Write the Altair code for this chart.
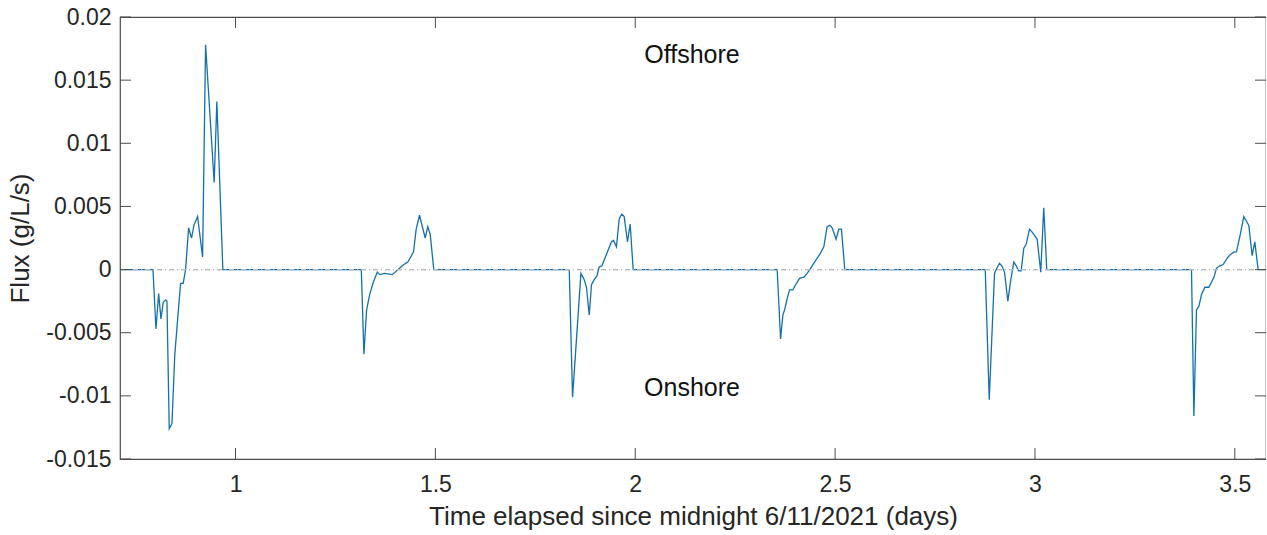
import altair as alt
import pandas as pd

# ---- data (time in days, flux in g/L/s) ----
t1 = [0.711, 0.7935, 0.801, 0.8077, 0.8134, 0.8192, 0.8252, 0.8284, 0.8342, 0.841, 0.848, 0.855,
      0.8626, 0.8691, 0.8751, 0.8826, 0.8901, 0.8959, 0.9051, 0.9176, 0.9251, 0.9466, 0.9533, 0.9683]
v1 = [0, 0, -0.0047, -0.0019, -0.0039, -0.0026, -0.0024, -0.0025, -0.0126, -0.0122, -0.0068, -0.0040,
      -0.0011, -0.0011, 0.0, 0.0033, 0.0025, 0.0035, 0.0042, 0.0010, 0.0178, 0.0069, 0.0133, 0.0]

t2 = [1.3147, 1.3212, 1.3279, 1.3354, 1.3437, 1.3546, 1.3611, 1.3729, 1.3921, 1.4103, 1.4211, 1.4311,
      1.4453, 1.4520, 1.4603, 1.4745, 1.4810, 1.4870, 1.4960]
v2 = [0, -0.0067, -0.0032, -0.0020, -0.0011, -0.0002, -0.0004, -0.0003, -0.0004, 0.0001, 0.0004, 0.0006,
      0.0014, 0.0032, 0.0043, 0.0025, 0.0034, 0.0028, 0]

t3 = [1.8349, 1.8432, 1.8641, 1.8724, 1.8780, 1.8849, 1.8906, 1.8974, 1.9041, 1.9098, 1.9166, 1.9241,
      1.9331, 1.9406, 1.9456, 1.9530, 1.9598, 1.9665, 1.9723, 1.9805, 1.9873, 1.9948]
v3 = [0, -0.0101, -0.0003, -0.0008, -0.0014, -0.0036, -0.0012, -0.0008, -0.0005, 0.0002, 0.0003, 0.0009,
      0.0016, 0.0022, 0.0023, 0.0018, 0.0040, 0.0044, 0.0042, 0.0022, 0.0036, 0]

t4 = [2.3551, 2.3636, 2.3694, 2.3744, 2.3801, 2.3861, 2.3944, 2.4011, 2.4111, 2.4218, 2.4301, 2.4386,
      2.4511, 2.4635, 2.4718, 2.4800, 2.4868, 2.4926, 2.5025, 2.5092, 2.5159, 2.5242]
v4 = [0, -0.0055, -0.0036, -0.0031, -0.0023, -0.0016, -0.0016, -0.0012, -0.0007, -0.0006, -0.0003, 0.0001,
      0.0007, 0.0013, 0.0018, 0.0034, 0.0035, 0.0033, 0.0024, 0.0032, 0.0032, 0]

t5 = [2.8756, 2.8856, 2.8988, 2.9046, 2.9113, 2.9171, 2.9238, 2.9321, 2.9396, 2.9471, 2.9530, 2.9588,
      2.9655, 2.9721, 2.9780, 2.9863, 2.9945, 3.0055, 3.0145, 3.0220, 3.0295]
v5 = [0, -0.0103, -0.0003, 0.0001, 0.0005, 0.0003, -0.0002, -0.0025, -0.0008, 0.0006, 0.0003, -0.0001,
      -0.0001, 0.0017, 0.0020, 0.0032, 0.0029, 0.0024, -0.0002, 0.0049, 0]

t6 = [3.3916, 3.3976, 3.4041, 3.4101, 3.4166, 3.4251, 3.4351, 3.4416, 3.4478, 3.4540, 3.4625, 3.4708,
      3.4808, 3.4890, 3.4983, 3.5041, 3.5125, 3.5225, 3.5350, 3.5433, 3.5500, 3.5583, 3.578]
v6 = [0, -0.0116, -0.0032, -0.0029, -0.0020, -0.0014, -0.0014, -0.0010, -0.0006, 0.0001, 0.0003, 0.0004,
      0.0009, 0.0012, 0.0014, 0.0014, 0.0026, 0.0042, 0.0035, 0.0011, 0.0022, 0, 0]

x_ticks = [1, 1.5, 2, 2.5, 3, 3.5]
y_ticks = [-0.015, -0.01, -0.005, 0, 0.005, 0.01, 0.015, 0.02]
x_domain = [0.711, 3.578]
y_domain = [-0.015, 0.02]

label_text = ["Offshore", "Onshore"]
label_t = [2.142, 2.142]
label_v = [0.0170, -0.0094]

# ---- tables ----
times = t1 + t2 + t3 + t4 + t5 + t6
flux = v1 + v2 + v3 + v4 + v5 + v6
df = pd.DataFrame({"t": times, "v": flux})
df_lab = pd.DataFrame({"t": label_t, "v": label_v, "txt": label_text})
df_xt = pd.DataFrame({"t": x_ticks})
df_yt = pd.DataFrame({"v": y_ticks})

W, H = 1146, 442
FONT = "Liberation Sans"
AX = "#4d4d4d"
TXT = "#262626"

xs = alt.Scale(domain=x_domain, nice=False, zero=False)
ys = alt.Scale(domain=y_domain, nice=False, zero=False)

x_axis = alt.Axis(values=x_ticks, labelExpr="'' + datum.value", grid=False, domain=False, ticks=False,
                  labelPadding=14, labelFontSize=23, labelColor=TXT, labelFont=FONT,
                  title="Time elapsed since midnight 6/11/2021 (days)", titleFontSize=26,
                  titleFontWeight="normal", titleFont=FONT, titleColor=TXT, titlePadding=7)
y_axis = alt.Axis(values=y_ticks, labelExpr="'' + datum.value", grid=False, domain=False, ticks=False,
                  labelPadding=9, labelFontSize=23, labelColor=TXT, labelFont=FONT,
                  title="Flux (g/L/s)", titleFontSize=26, titleFontWeight="normal", titleFont=FONT,
                  titleColor=TXT, titlePadding=12)

line = alt.Chart(df).mark_line(color="#1570aa", strokeWidth=1.3).encode(
    x=alt.X("t:Q", scale=xs, axis=x_axis),
    y=alt.Y("v:Q", scale=ys, axis=y_axis),
    order="t:Q",
)

zero = alt.Chart(df_yt).mark_rule(color="#b8b8b8", strokeWidth=1, strokeDash=[5, 3, 1, 3]).encode(
    y=alt.datum(0, scale=ys),
)

labels = alt.Chart(df_lab).mark_text(fontSize=25, font=FONT, color="#111111").encode(
    x=alt.X("t:Q", scale=xs), y=alt.Y("v:Q", scale=ys), text="txt:N"
)

tick_len = 11
bot = alt.Chart(df_xt).mark_rule(color=AX, strokeWidth=1).encode(
    x=alt.X("t:Q", scale=xs), y=alt.value(H), y2=alt.value(H - tick_len))
top = alt.Chart(df_xt).mark_rule(color=AX, strokeWidth=1).encode(
    x=alt.X("t:Q", scale=xs), y=alt.value(0), y2=alt.value(tick_len))
left = alt.Chart(df_yt).mark_rule(color=AX, strokeWidth=1).encode(
    y=alt.Y("v:Q", scale=ys), x=alt.value(0), x2=alt.value(tick_len))
right = alt.Chart(df_yt).mark_rule(color=AX, strokeWidth=1).encode(
    y=alt.Y("v:Q", scale=ys), x=alt.value(W), x2=alt.value(W - tick_len))

chart = alt.layer(line, zero, labels, bot, top, left, right).properties(
    width=W, height=H,
    padding={"left": 120, "top": 17, "right": 0, "bottom": 75},
    autosize=alt.AutoSizeParams(type="none"),
    background="white",
).configure_view(stroke=AX, strokeWidth=1.2)

chart.save("out.html", embed_options={"renderer": "svg", "actions": False})
